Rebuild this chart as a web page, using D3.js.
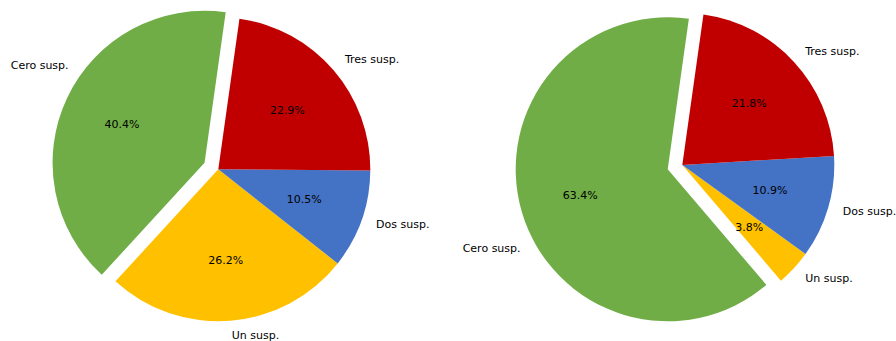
<!DOCTYPE html>
<html>
<head>
<meta charset="utf-8">
<script src="https://cdn.jsdelivr.net/npm/d3@7"></script>
<style>
  html, body { margin: 0; padding: 0; background: #ffffff; }
  svg { display: block; }
  text { font-family: "DejaVu Sans", sans-serif; font-size: 11px; fill: #000; }
</style>
</head>
<body>
<svg id="chart" width="896" height="341"></svg>
<script>
// ---- data ----
const categories = ["Cero susp.", "Un susp.", "Dos susp.", "Tres susp."];
const colors = ["#70AD47", "#FFC000", "#4472C4", "#C00000"];
const leftValues = [40.4, 26.2, 10.5, 22.9];
const rightValues = [63.4, 3.8, 10.9, 21.8];
const explode = [0.1, 0, 0, 0];
// label angle tweaks (degrees) as seen in the reference
const leftLabelShift = [10.3, 0, 0, 0];
const rightLabelShift = [-12.1, 0, 0, 0];

const svg = d3.select("#chart");
const R = 152;
const deg = Math.PI / 180;
const start = 8 * deg;

function drawPie(cx, cy, values, labelShift) {
  const g = svg.append("g").attr("transform", `translate(${cx},${cy})`);
  const pie = d3.pie().sort(null).value(d => d.v)
    .startAngle(start + 2 * Math.PI).endAngle(start);
  const data = categories.map((c, i) => ({ c, v: values[i], i }));
  const arcs = pie(data);
  const arc = d3.arc().innerRadius(0).outerRadius(R);

  arcs.forEach(a => {
    const i = a.data.i;
    const mid = (a.startAngle + a.endAngle) / 2;
    const off = explode[i] * R;
    const ox = off * Math.sin(mid), oy = -off * Math.cos(mid);
    const sg = g.append("g").attr("transform", `translate(${ox},${oy})`);
    sg.append("path").attr("d", arc(a)).attr("fill", colors[i]);

    // percentage label
    const pr = 0.6 * R;
    sg.append("text")
      .attr("x", pr * Math.sin(mid))
      .attr("y", -pr * Math.cos(mid))
      .attr("dy", "0.35em")
      .attr("text-anchor", "middle")
      .text(d3.format(".1f")(a.data.v) + "%");

    // category label
    const la = mid + labelShift[i] * deg;
    const lr = 1.1 * R;
    const lx = lr * Math.sin(la), ly = -lr * Math.cos(la);
    sg.append("text")
      .attr("x", lx)
      .attr("y", ly)
      .attr("dy", "0.3em")
      .attr("text-anchor", lx >= 0 ? "start" : "end")
      .text(a.data.c);
  });
}

drawPie(218.3, 169.3, leftValues, leftLabelShift);
drawPie(682.3, 165, rightValues, rightLabelShift);
</script>
</body>
</html>
